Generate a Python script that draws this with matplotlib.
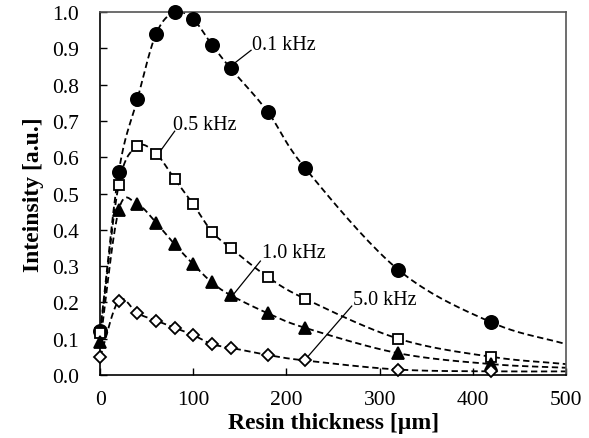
import numpy as np
import matplotlib.pyplot as plt

plt.rcParams["font.family"] = ["Liberation Serif", "DejaVu Serif"]

# resin thickness [um]
thickness = [0, 20, 40, 60, 80, 100, 120, 140, 180, 220, 320, 420]

int_01k = [0.12, 0.56, 0.76, 0.94, 1.00, 0.98, 0.91, 0.845, 0.725, 0.57, 0.29, 0.145]
int_05k = [0.115, 0.525, 0.63, 0.61, 0.54, 0.47, 0.395, 0.35, 0.27, 0.21, 0.10, 0.05]
int_10k = [0.09, 0.455, 0.47, 0.42, 0.36, 0.305, 0.255, 0.22, 0.17, 0.13, 0.06, 0.03]
int_50k = [0.05, 0.205, 0.17, 0.15, 0.13, 0.11, 0.085, 0.075, 0.055, 0.04, 0.015, 0.01]

# end values of the dashed fit curves at 500 um
fit_end = [0.085, 0.03, 0.02, 0.01]

labels = ["0.1 kHz", "0.5 kHz", "1.0 kHz", "5.0 kHz"]
# label text position and leader start (data coords)
label_pos = [(163, 0.912), (78, 0.691), (174, 0.339), (271, 0.209)]
leader_from = [(142, 0.855), (64, 0.615), (144, 0.225), (221, 0.045)]
leader_to = [(162, 0.895), (80, 0.672), (172, 0.314), (270, 0.19)]


def smooth(x, y, n=20):
    # catmull-rom through the points, only for drawing the dashed line
    x = np.asarray(x, float)
    y = np.asarray(y, float)
    px = np.concatenate([[2 * x[0] - x[1]], x, [2 * x[-1] - x[-2]]])
    py = np.concatenate([[2 * y[0] - y[1]], y, [2 * y[-1] - y[-2]]])
    xs, ys = [], []
    t = np.linspace(0, 1, n, endpoint=False)
    for i in range(1, len(px) - 2):
        for p, out in ((px, xs), (py, ys)):
            p0, p1, p2, p3 = p[i - 1], p[i], p[i + 1], p[i + 2]
            out.append(0.5 * (2 * p1 + (-p0 + p2) * t
                              + (2 * p0 - 5 * p1 + 4 * p2 - p3) * t ** 2
                              + (-p0 + 3 * p1 - 3 * p2 + p3) * t ** 3))
    xs.append([x[-1]])
    ys.append([y[-1]])
    return np.concatenate(xs), np.concatenate(ys)


fig = plt.figure(figsize=(5.89, 4.39), dpi=100)
ax = fig.add_axes([0.170, 0.1435, 0.791, 0.8265])

series = [int_01k, int_05k, int_10k, int_50k]
markers = [("o", "black", 9.5), ("s", "white", 7.5), ("^", "black", 8.5), ("D", "white", 6.5)]

for vals, end in zip(series, fit_end):
    cx, cy = smooth(thickness + [500], vals + [end])
    ax.plot(cx, cy, "--", color="black", lw=1.3, dashes=(3.5, 2), zorder=2)
for vals, (m, fc, ms) in zip(series, markers):
    ax.plot(thickness, vals, ls="none", marker=m, ms=ms, mfc=fc, mec="black",
            mew=1.3, zorder=3, clip_on=False)

for lab, pos, a, b in zip(labels, label_pos, leader_from, leader_to):
    ax.plot([a[0], b[0]], [a[1], b[1]], color="black", lw=0.9, zorder=2)
    ax.text(pos[0], pos[1], lab, fontsize=14.5, va="center", ha="left")

ax.set_xlim(0, 500)
ax.set_ylim(0, 1.0)
ax.set_xticks(np.arange(0, 501, 100))
ax.set_yticks(np.arange(0, 1.01, 0.1))
ax.set_yticklabels([f"{v:.1f}" for v in np.arange(0, 1.01, 0.1)])
ax.tick_params(direction="in", labelsize=15.5, length=5, width=1)
ax.tick_params(axis="y", pad=15)
ax.tick_params(axis="x", pad=11)
ax.set_xlabel("Resin thickness [µm]", fontsize=17, fontweight="bold", labelpad=2)
ax.set_ylabel("Inteinsity [a.u.]", fontsize=17, fontweight="bold", labelpad=6)
for s in ["top", "right"]:
    ax.spines[s].set_color("#555555")
for s in ax.spines.values():
    s.set_linewidth(1.2)

fig.savefig("out.png", dpi=100)
